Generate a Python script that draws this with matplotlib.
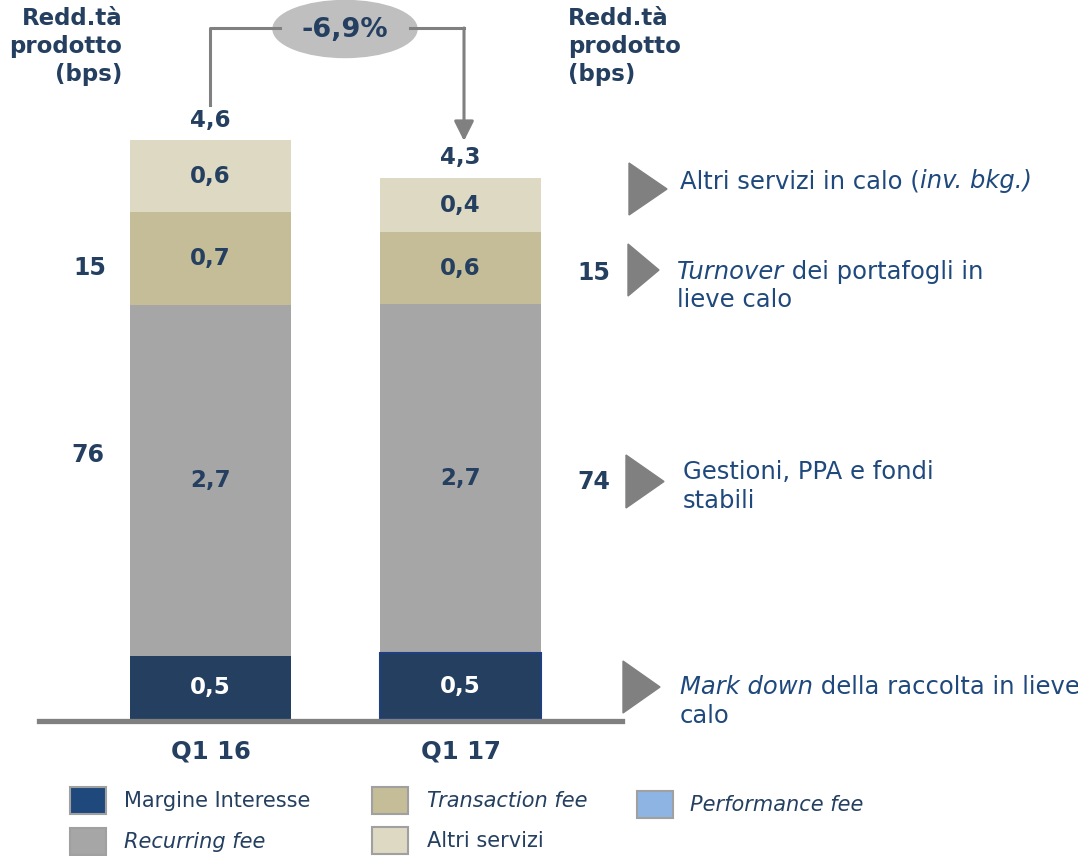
import matplotlib
matplotlib.use('Agg')
import matplotlib.pyplot as plt
import matplotlib.patches as mpatches
import matplotlib.transforms as mtransforms
from matplotlib.lines import Line2D

plt.rcParams['font.family'] = ['DejaVu Sans']

W, H = 1078, 856

# data (bps on product, stacked)
quarters = ['Q1 16', 'Q1 17']
margine = [0.50, 0.52]
recurring = [2.78, 2.77]
transaction = [0.74, 0.57]
altri = [0.57, 0.43]

margine_lbl = ['0,5', '0,5']
recurring_lbl = ['2,7', '2,7']
transaction_lbl = ['0,7', '0,6']
altri_lbl = ['0,6', '0,4']
totals_lbl = ['4,6', '4,3']
change_lbl = '-6,9%'
share_left = ['15', '76']
share_right = ['15', '74']

NAVY = '#243F60'
BLUE_TXT = '#1F497D'
GREY = '#808080'
c_marg = '#253F60'
c_rec = '#A6A6A6'
c_trans = '#C4BD97'
c_altri = '#DDD9C3'
c_perf = '#8EB4E3'

fig = plt.figure(figsize=(W / 100, H / 100), dpi=100)
# pixel coords, origin top-left
pix = mtransforms.Affine2D().scale(1 / W, -1 / H).translate(0, 1) + fig.transFigure

# bar axes: y=0 at pixel 719, 126.1 px per unit; bar centres at 210.5 / 460.5
ax = fig.add_axes([30 / W, (H - 719) / H, 600 / W, 589 / H])
ax.set_xlim(-0.722, 1.678)
ax.set_ylim(0, 589 / 126.1)
ax.axis('off')

x = [0, 1]
bw = 0.644
segs = [(margine, c_marg, margine_lbl, 'white'),
        (recurring, c_rec, recurring_lbl, NAVY),
        (transaction, c_trans, transaction_lbl, NAVY),
        (altri, c_altri, altri_lbl, NAVY)]
bottom = [0.0, 0.0]
for vals, col, lbls, tc in segs:
    bars = ax.bar(x, vals, bw, bottom=bottom, color=col, linewidth=0)
    for i, b in enumerate(bars):
        ax.text(b.get_x() + b.get_width() / 2, bottom[i] + vals[i] / 2, lbls[i],
                ha='center', va='center', fontsize=16.5, fontweight='bold', color=tc)
    bottom = [bottom[i] + vals[i] for i in range(2)]
# slightly outlined margin segment on second bar
ax.bar(x[1], margine[1], bw, color='none', edgecolor='#1F3F7F', linewidth=1.5)

for i in range(2):
    ax.text(x[i], bottom[i] + 0.16, totals_lbl[i], ha='center', va='center',
            fontsize=16.5, fontweight='bold', color=NAVY)
    ax.text(x[i], -33 / 126.1, quarters[i], ha='center', va='center',
            fontsize=17.5, fontweight='bold', color=NAVY, clip_on=False)

# baseline
fig.add_artist(Line2D([39, 622], [721.5, 721.5], transform=pix, color=GREY, lw=3.8))

# headers
fig.text(122, 7, 'Redd.tà\nprodotto\n(bps)', transform=pix, ha='right', va='top',
         fontsize=16.5, fontweight='bold', color=NAVY, linespacing=1.28)
fig.text(568, 7, 'Redd.tà\nprodotto\n(bps)', transform=pix, ha='left', va='top',
         fontsize=16.5, fontweight='bold', color=NAVY, linespacing=1.28)

# change connector
fig.add_artist(Line2D([210, 210, 280], [105, 28, 28], transform=pix, color=GREY, lw=2.2))
fig.add_artist(Line2D([410, 464], [28, 28], transform=pix, color=GREY, lw=2.2))
fig.add_artist(mpatches.FancyArrowPatch((464, 28), (464, 141), transform=pix,
                                        arrowstyle='-|>,head_length=12,head_width=6',
                                        color=GREY, lw=2.2, shrinkA=0, shrinkB=0,
                                        mutation_scale=1))
fig.add_artist(mpatches.Ellipse((345, 29), 144, 57, transform=pix, color='#BFBFBF'))
fig.text(345, 30, change_lbl, transform=pix, ha='center', va='center',
         fontsize=19.5, fontweight='bold', color=NAVY)

# share numbers
fig.text(90, 268, share_left[0], transform=pix, ha='center', va='center',
         fontsize=17, fontweight='bold', color=NAVY)
fig.text(88, 455, share_left[1], transform=pix, ha='center', va='center',
         fontsize=17, fontweight='bold', color=NAVY)
fig.text(594, 273, share_right[0], transform=pix, ha='center', va='center',
         fontsize=17, fontweight='bold', color=NAVY)
fig.text(594, 482, share_right[1], transform=pix, ha='center', va='center',
         fontsize=17, fontweight='bold', color=NAVY)

# triangles
for x0, x1, y0, y1 in [(629, 667, 163, 215), (628, 659, 244, 296),
                       (626, 664, 455, 508), (623, 660, 661, 713)]:
    fig.add_artist(mpatches.Polygon([(x0, y0), (x1, (y0 + y1) / 2), (x0, y1)],
                                    closed=True, transform=pix, color=GREY))

renderer = fig.canvas.get_renderer()


def rich_line(xp, yp, pieces, size=17.5):
    for txt, style in pieces:
        t = fig.text(xp, yp, txt, transform=pix, ha='left', va='baseline',
                     fontsize=size, style=style, color=BLUE_TXT)
        xp += t.get_window_extent(renderer).width


rich_line(680, 188, [('Altri servizi in calo (', 'normal'), ('inv. bkg.)', 'italic')])
rich_line(677, 279, [('Turnover', 'italic'), (' dei portafogli in', 'normal')])
rich_line(677, 307, [('lieve calo', 'normal')])
rich_line(683, 479, [('Gestioni, PPA e fondi', 'normal')])
rich_line(683, 508, [('stabili', 'normal')])
rich_line(680, 694, [('Mark down', 'italic'), (' della raccolta in lieve', 'normal')])
rich_line(680, 723, [('calo', 'normal')])

# legend
legend_items = [
    ('Margine Interesse', 'normal', '#1F497D', 70, 787, 124),
    ('Transaction fee', 'italic', c_trans, 372, 787, 427),
    ('Performance fee', 'italic', c_perf, 637, 791, 690),
    ('Recurring fee', 'italic', c_rec, 70, 828, 124),
    ('Altri servizi', 'normal', c_altri, 372, 827, 427),
]
for name, style, col, bx, by, tx in legend_items:
    fig.add_artist(mpatches.Rectangle((bx, by), 36, 27, transform=pix, facecolor=col,
                                      edgecolor='#A0A0A0', lw=1.5))
    fig.text(tx, by + 14, name, transform=pix, ha='left', va='center', fontsize=15,
             style=style, color=NAVY)

fig.savefig('out.png', dpi=100)
